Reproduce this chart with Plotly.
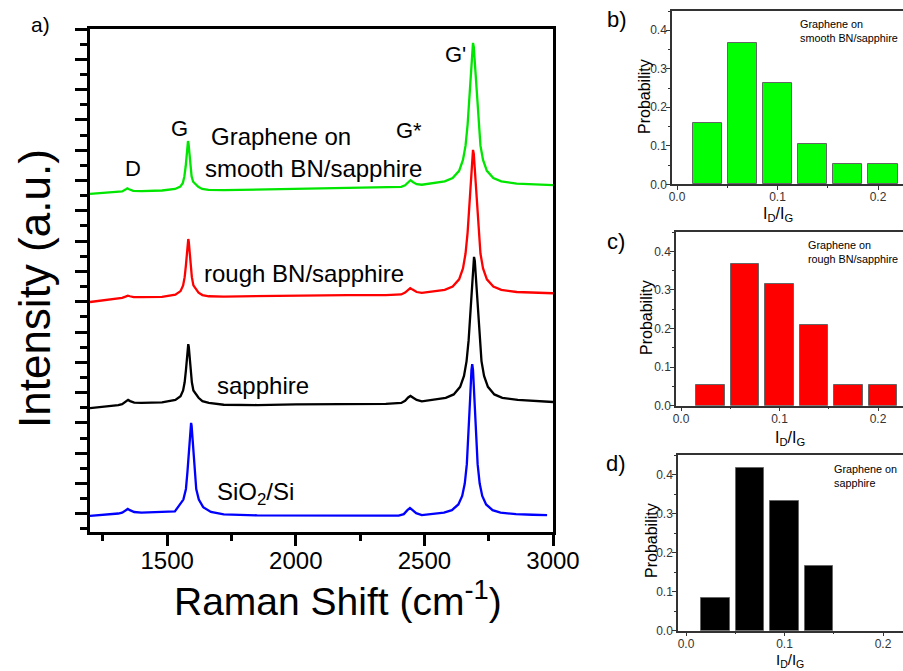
import plotly.graph_objects as go

W, H = 903, 671
FONT = "Arial, Liberation Sans, sans-serif"

# ---------------- data: Raman spectra (a.u., offset for display) ----------------
shift_green = [1200, 1260, 1310, 1325, 1338, 1345, 1352, 1368, 1400, 1480,
               1531, 1551, 1561, 1567, 1572, 1576, 1579, 1581, 1583, 1586, 1590, 1595,
               1601, 1611, 1621, 1636, 1661, 1720, 1850, 2000, 2200, 2350,
               2410, 2425, 2437, 2446, 2455, 2470, 2490,
               2519, 2579, 2610, 2635, 2650, 2660, 2668, 2675, 2681, 2686, 2689, 2692, 2697, 2703, 2710, 2718, 2728, 2743, 2768, 2799,
               2859, 2930, 3000]
int_green = [10.56, 10.59, 10.62, 10.64, 10.70, 10.74, 10.71, 10.66, 10.65, 10.67,
             10.72, 10.80, 10.92, 11.14, 11.47, 11.90, 12.22, 12.30, 12.22, 11.90, 11.47, 11.14,
             10.96, 10.87, 10.79, 10.72, 10.69, 10.68, 10.70, 10.72, 10.74, 10.77,
             10.79, 10.84, 10.94, 11.01, 10.95, 10.88, 10.86,
             10.90, 10.97, 11.08, 11.32, 11.68, 12.15, 12.84, 13.77, 14.77, 15.41, 15.54, 15.41, 14.77, 13.77, 12.84, 12.15, 11.68, 11.32, 11.08, 10.97,
             10.90, 10.87, 10.85]

shift_red = [1200, 1260, 1310, 1325, 1338, 1347, 1355, 1370, 1400, 1480,
             1532, 1552, 1562, 1568, 1573, 1577, 1580, 1582, 1584, 1587, 1591, 1596,
             1602, 1612, 1622, 1637, 1662, 1720, 1850, 2000, 2200, 2350,
             2410, 2425, 2436, 2445, 2454, 2470, 2490,
             2519, 2579, 2610, 2635, 2650, 2660, 2668, 2675, 2681, 2686, 2689, 2692, 2697, 2703, 2710, 2718, 2728, 2743, 2768, 2799,
             2859, 2930, 3000]
int_red = [6.99, 7.05, 7.11, 7.13, 7.17, 7.20, 7.18, 7.15, 7.15, 7.16,
           7.23, 7.35, 7.54, 7.81, 8.21, 8.68, 8.98, 9.07, 8.98, 8.68, 8.21, 7.81,
           7.54, 7.41, 7.30, 7.22, 7.18, 7.17, 7.19, 7.20, 7.22, 7.22,
           7.24, 7.30, 7.40, 7.45, 7.40, 7.32, 7.29,
           7.32, 7.39, 7.50, 7.74, 8.10, 8.59, 9.28, 10.22, 11.23, 11.88, 12.01, 11.88, 11.23, 10.22, 9.28, 8.59, 8.10, 7.74, 7.50, 7.39,
           7.32, 7.29, 7.28]

shift_black = [1200, 1260, 1310, 1325, 1338, 1348, 1356, 1372, 1400, 1480,
               1532, 1552, 1562, 1568, 1573, 1577, 1580, 1582, 1584, 1587, 1591, 1596,
               1602, 1612, 1622, 1637, 1662, 1720, 1850, 2000, 2200, 2350,
               2410, 2425, 2437, 2446, 2455, 2470, 2490,
               2523, 2583, 2614, 2639, 2654, 2664, 2672, 2679, 2685, 2690, 2693, 2696, 2701, 2707, 2714, 2722, 2732, 2747, 2772, 2803,
               2863, 2930, 3000]
int_black = [3.49, 3.54, 3.59, 3.62, 3.70, 3.76, 3.72, 3.67, 3.66, 3.68,
             3.76, 3.88, 4.07, 4.34, 4.74, 5.22, 5.52, 5.60, 5.52, 5.22, 4.74, 4.34,
             4.07, 3.94, 3.83, 3.72, 3.66, 3.60, 3.59, 3.61, 3.62, 3.63,
             3.66, 3.73, 3.84, 3.89, 3.84, 3.76, 3.71,
             3.76, 3.83, 3.94, 4.19, 4.55, 5.04, 5.73, 6.68, 7.69, 8.35, 8.48, 8.35, 7.69, 6.68, 5.73, 5.04, 4.55, 4.19, 3.94, 3.83,
             3.76, 3.72, 3.69]

shift_blue = [1200, 1260, 1310, 1325, 1338, 1347, 1355, 1372, 1400, 1480,
              1530, 1563, 1573, 1579, 1584, 1588, 1591, 1593, 1595, 1598,
              1602, 1607, 1613, 1623, 1640, 1670, 1720, 1850, 2000, 2200,
              2350, 2400, 2420, 2434, 2444, 2453, 2468, 2490,
              2516, 2576, 2607, 2632, 2647, 2657, 2665, 2672, 2678, 2683, 2686, 2689, 2694, 2700, 2707, 2715, 2725, 2740, 2765, 2796,
              2856, 2920, 2977]
int_blue = [-0.07, -0.03, 0.01, 0.04, 0.11, 0.16, 0.12, 0.06, 0.04, 0.05,
            0.08, 0.47, 0.82, 1.40, 2.04, 2.56, 2.91, 3.00, 2.91, 2.56,
            1.94, 1.30, 0.82, 0.47, 0.22, 0.06, -0.02, -0.05, -0.06, -0.06,
            -0.06, -0.06, -0.01, 0.12, 0.19, 0.13, 0.02, -0.04,
            -0.01, 0.04, 0.12, 0.31, 0.59, 1.00, 1.64, 2.61, 3.83, 4.75, 4.94, 4.75, 3.83, 2.61, 1.64, 1.00, 0.59, 0.31, 0.12, 0.04,
            -0.01, -0.03, -0.04]

# ---------------- data: ID/IG histograms ----------------
ratio_bins = [0.03, 0.065, 0.1, 0.135, 0.17, 0.205]
prob_smooth_bn = [0.158, 0.368, 0.263, 0.105, 0.053, 0.053]
prob_rough_bn = [0.053, 0.368, 0.316, 0.210, 0.053, 0.053]
prob_sapphire = [0.083, 0.417, 0.333, 0.167, None, None]

fig = go.Figure()

for xs, ys, col in [(shift_green, int_green, "#00E600"), (shift_red, int_red, "#FF0000"),
                    (shift_black, int_black, "#000000"), (shift_blue, int_blue, "#0000FF")]:
    fig.add_trace(go.Scatter(x=xs, y=ys, mode="lines", line=dict(color=col, width=2.3),
                             xaxis="x", yaxis="y", showlegend=False, hoverinfo="skip"))

for i, (probs, col) in enumerate([(prob_smooth_bn, "#00FF00"), (prob_rough_bn, "#FF0000"), (prob_sapphire, "#000000")]):
    n = i + 2
    fig.add_trace(go.Bar(x=ratio_bins, y=probs, width=0.029, marker=dict(color=col, line=dict(color="#666666", width=1)),
                         xaxis=f"x{n}", yaxis=f"y{n}", showlegend=False, hoverinfo="skip"))


def px(x):
    return x / W


def py(y):
    return 1 - y / H


main_x = dict(domain=[px(90), px(553)], range=[1200, 3000], anchor="y", tickvals=[1500, 2000, 2500, 3000],
              ticks="outside", ticklen=11, tickwidth=2.5, tickcolor="black", automargin=False,
              ticklabelstandoff=-6,
              minor=dict(dtick=250, tick0=0, ticks="outside", ticklen=6, tickwidth=2.5, tickcolor="black"),
              showline=True, linewidth=3, linecolor="black", mirror=True, showgrid=False, zeroline=False,
              tickfont=dict(family=FONT, size=24, color="black"))
main_y = dict(domain=[py(532), py(29)], range=[-0.6, 16.0], anchor="x", dtick=1, tick0=0, automargin=False,
              ticks="outside", ticklen=12, tickwidth=2.5, tickcolor="black", showticklabels=False,
              minor=dict(dtick=0.5, tick0=0, ticks="outside", ticklen=7, tickwidth=2.5, tickcolor="black"),
              showline=True, linewidth=3, linecolor="black", mirror=True, showgrid=False, zeroline=False)


def inset_axes(left, top, bottom, x0, x100):
    # x0 = pixel for 0.0, x100 = pixels per 0.1
    xr = [(left - x0) / x100 * 0.1, (W - x0) / x100 * 0.1]
    xa = dict(domain=[px(left), 1.0], range=xr, tickvals=[0.0, 0.1, 0.2], ticktext=["0.0", "0.1", "0.2"],
              ticks="outside", ticklen=4, tickwidth=1, tickcolor="#333", automargin=False,
              ticklabelstandoff=-3,
              minor=dict(dtick=0.05, tick0=0, ticks="outside", ticklen=2, tickwidth=1, tickcolor="#333"),
              showline=True, linewidth=1.5, linecolor="#333", mirror=True, showgrid=False, zeroline=False,
              tickfont=dict(family=FONT, size=12, color="#333"))
    ya = dict(domain=[py(bottom), py(top)], range=[0, 0.45], tickvals=[0.0, 0.1, 0.2, 0.3, 0.4],
              ticktext=["0.0", "0.1", "0.2", "0.3", "0.4"], automargin=False,
              ticks="outside", ticklen=4, tickwidth=1, tickcolor="#333", ticklabelstandoff=-3,
              minor=dict(dtick=0.05, tick0=0, ticks="outside", ticklen=2, tickwidth=1, tickcolor="#333"),
              showline=True, linewidth=1.5, linecolor="#333", mirror=False, showgrid=False, zeroline=False,
              tickfont=dict(family=FONT, size=12, color="#333"))
    return xa, ya


xa2, ya2 = inset_axes(672, 11, 184.3, 677, 100.5)
xa3, ya3 = inset_axes(676, 232, 405.7, 681, 98.5)
xa4, ya4 = inset_axes(678, 455, 630.7, 686, 98.5)
xa2["anchor"], ya2["anchor"] = "y2", "x2"
xa3["anchor"], ya3["anchor"] = "y3", "x3"
xa4["anchor"], ya4["anchor"] = "y4", "x4"

ann = []


def text(t, x, y, size, angle=0, xanchor="center", align="center", color="black"):
    ann.append(dict(text=t, x=px(x), y=py(y), xref="paper", yref="paper", showarrow=False,
                    xanchor=xanchor, yanchor="middle", align=align, textangle=angle,
                    font=dict(family=FONT, size=size, color=color)))


# main panel
text("a)", 40, 25, 21)
text("Intensity (a.u.)", 34, 289, 44, angle=-90)
text("Raman Shift (cm<sup>-1</sup>)", 338, 598, 39)
text("D", 133, 168, 22)
text("G", 179, 129, 22)
text("Graphene on", 281, 137, 24)
text("smooth BN/sapphire", 313, 168, 24)
text("G*", 409, 130, 22)
text("G'", 455, 55, 22)
text("rough BN/sapphire", 304, 273, 24)
text("sapphire", 263, 385, 24)
text("SiO<sub>2</sub>/Si", 255, 493, 24)

# insets
text("b)", 617, 19, 22)
text("c)", 616, 241, 22)
text("d)", 616, 463, 22)
text("Graphene on<br>smooth BN/sapphire", 798, 31, 10.8, xanchor="left", align="left")
text("Graphene on<br>rough BN/sapphire", 806, 252, 10.8, xanchor="left", align="left")
text("Graphene on<br>sapphire", 832, 476, 10.8, xanchor="left", align="left")
text("Probability", 644, 97, 16, angle=-90)
text("Probability", 646, 318, 16, angle=-90)
text("Probability", 651, 541, 16, angle=-90)
text("I<sub>D</sub>/I<sub>G</sub>", 778, 214, 16)
text("I<sub>D</sub>/I<sub>G</sub>", 790, 438, 16)
text("I<sub>D</sub>/I<sub>G</sub>", 790, 660, 15)

fig.update_layout(
    width=W, height=H, margin=dict(l=0, r=0, t=0, b=0, pad=0), autosize=False,
    paper_bgcolor="white", plot_bgcolor="rgba(0,0,0,0)",
    xaxis=main_x, yaxis=main_y,
    xaxis2=xa2, yaxis2=ya2, xaxis3=xa3, yaxis3=ya3, xaxis4=xa4, yaxis4=ya4,
    annotations=ann, bargap=0, showlegend=False,
    font=dict(family=FONT),
)

fig.write_html("out.html")
